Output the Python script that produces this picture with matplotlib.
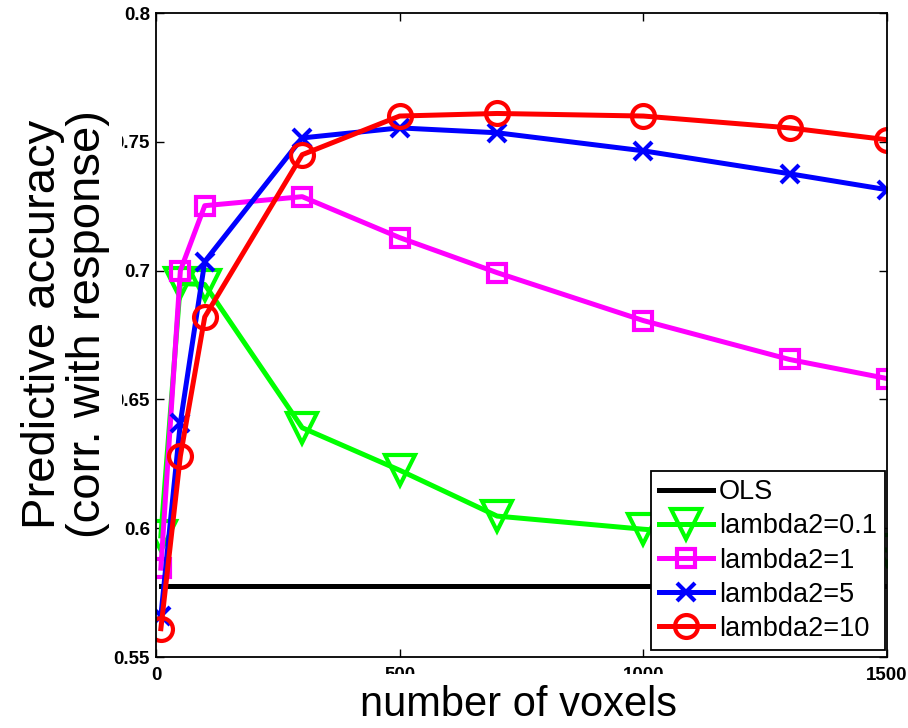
import matplotlib
matplotlib.use("Agg")
import matplotlib.pyplot as plt

plt.rcParams['font.family'] = ['Liberation Sans', 'DejaVu Sans']

# Number of voxels used by each model
voxels = [10, 50, 100, 300, 500, 700, 1000, 1300, 1500]

# Predictive accuracy (correlation with response)
ols = [0.5775, 0.5775, 0.5775, 0.5775, 0.5775, 0.5775, 0.5775, 0.5775, 0.5775]
lam_01 = [0.597, 0.695, 0.6946, 0.639, 0.6225, 0.6047, 0.5996, 0.5955, 0.5915]
lam_1 = [0.5845, 0.700, 0.7252, 0.7287, 0.7128, 0.6992, 0.6806, 0.6655, 0.6581]
lam_5 = [0.566, 0.641, 0.7035, 0.7515, 0.7554, 0.7535, 0.7465, 0.7376, 0.7314]
lam_10 = [0.561, 0.628, 0.682, 0.745, 0.760, 0.761, 0.760, 0.7554, 0.7508]

series_labels = ['OLS', 'lambda2=0.1', 'lambda2=1', 'lambda2=5', 'lambda2=10']
xticks = [0, 500, 1000, 1500]
yticks = [0.55, 0.6, 0.65, 0.7, 0.75, 0.8]
ytick_labels = ['0.55', '0.6', '0.65', '0.7', '0.75', '0.8']

fig = plt.figure(figsize=(9.08, 7.28), dpi=100)
ax = fig.add_axes([156 / 908, 71 / 728, 731 / 908, 644 / 728])

lw = 3.6
mew = 3.0
ax.plot(voxels, ols, color='black', lw=lw, label=series_labels[0])
ax.plot(voxels, lam_01, color=(0, 1, 0), lw=lw, marker='v', ms=21,
        mfc='none', mew=mew, label=series_labels[1])
ax.plot(voxels, lam_1, color=(1, 0, 1), lw=lw, marker='s', ms=13,
        mfc='none', mew=mew, label=series_labels[2])
ax.plot(voxels, lam_5, color=(0, 0, 1), lw=lw, marker='x', ms=13,
        mfc='none', mew=mew, label=series_labels[3])
ax.plot(voxels, lam_10, color=(1, 0, 0), lw=lw, marker='o', ms=16.5,
        mfc='none', mew=mew, label=series_labels[4])

ax.set_xlim(0, 1500)
ax.set_ylim(0.55, 0.8)
ax.set_xticks(xticks)
ax.set_xticklabels([str(t) for t in xticks])
ax.set_yticks(yticks)
ax.set_yticklabels(ytick_labels)

for s in ax.spines.values():
    s.set_linewidth(1.3)
ax.tick_params(direction='in', length=5.5, width=1.0, top=True, right=True,
               labelsize=13.5)
ax.tick_params(axis='x', pad=7)
ax.tick_params(axis='y', pad=4.3)
for t in ax.get_xticklabels() + ax.get_yticklabels():
    t.set_fontweight('bold')

ax.set_xlabel('number of voxels', fontsize=30,
              bbox=dict(facecolor='white', edgecolor='none', pad=8))
ax.xaxis.set_label_coords(0.496, -0.0435)
ax.set_ylabel('Predictive accuracy\n(corr. with response)', fontsize=34,
              linespacing=1.02,
              bbox=dict(facecolor='white', edgecolor='none', pad=9))
ax.yaxis.set_label_coords(-0.063, 0.517)

leg = ax.legend(loc='lower right', bbox_to_anchor=(0.9973, 0.0109),
                borderaxespad=0, prop={'size': 19.5},
                fancybox=False, framealpha=1,
                edgecolor='black', handlelength=2.0, handletextpad=0.2,
                labelspacing=0.30, borderpad=0.3)
leg.get_frame().set_linewidth(1.3)

fig.savefig('out.png', dpi=100)
